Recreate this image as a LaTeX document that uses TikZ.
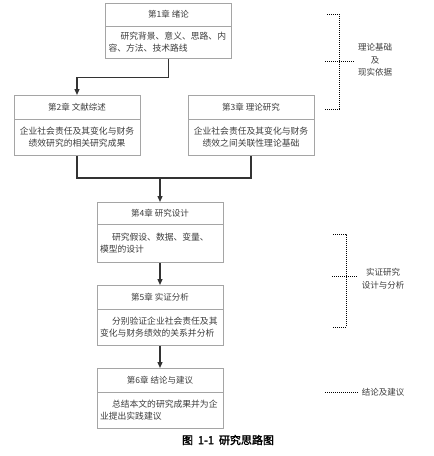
\documentclass[tikz,border=0pt]{standalone}
\usepackage{fontspec}
\newfontfamily\cjk{Noto Sans CJK SC}
\newfontfamily\cjkbf[FakeBold=2]{Noto Sans CJK SC}
\usetikzlibrary{positioning,arrows.meta}
\definecolor{boxgray}{RGB}{165,165,165}
\definecolor{txtgray}{RGB}{60,60,60}

\begin{document}
\begin{tikzpicture}[x=1pt,y=1pt,
    head/.style={draw=boxgray,minimum width=126pt,minimum height=23pt,inner
        sep=0pt,font=\cjk\fontsize{8.5}{10}\selectfont,text=txtgray},
    body/.style={draw=boxgray,minimum width=126pt,text width=120pt,inner
        xsep=3pt,inner ysep=2pt,minimum height=36pt,
        font=\cjk\fontsize{8.8}{12}\selectfont,text=txtgray},
    flow/.style={draw=black!80,line width=1.3pt,
        -{Triangle[length=6pt,width=5pt]}},
    bracket/.style={densely dotted,line width=1pt},
    side/.style={font=\cjk\fontsize{8.5}{12.5}\selectfont,text=txtgray,
        align=center,inner xsep=4pt,inner ysep=1pt}]

    \useasboundingbox (0,0) rectangle (434,-456);

    % the chapters

    \node[head,anchor=north] (c1) at (168.5,-3) {第1章 绪论};
    \node[body,below=0pt of c1,minimum height=32pt,align=left] (c1t)
    {\hspace*{12pt}研究背景、意义、思路、内\\容、方法、技术路线};

    \node[head,anchor=north,minimum height=24pt] (c2) at (77,-95) {第2章 文献综述};
    \node[body,below=0pt of c2,align=center] (c2t)
    {企业社会责任及其变化与财务\\绩效研究的相关研究成果};

    \node[head,anchor=north,minimum height=24pt] (c3) at (251,-95) {第3章 理论研究};
    \node[body,below=0pt of c3,align=center] (c3t)
    {企业社会责任及其变化与财务\\绩效之间关联性理论基础};

    \node[head,anchor=north,minimum height=22pt] (c4) at (160,-202) {第4章 研究设计};
    \node[body,below=0pt of c4,minimum height=38pt,align=left] (c4t)
    {\hspace*{12pt}研究假设、数据、变量、\\模型的设计};

    \node[head,anchor=north,minimum height=24pt] (c5) at (160,-285) {第5章 实证分析};
    \node[body,below=0pt of c5,align=left] (c5t)
    {\hspace*{12pt}分别验证企业社会责任及其\\变化与财务绩效的关系并分析};

    \node[head,anchor=north,minimum height=24pt] (c6) at (160,-368) {第6章 结论与建议};
    \node[body,below=0pt of c6,align=left] (c6t)
    {\hspace*{12pt}总结本文的研究成果并为企\\业提出实践建议};

    % the flow

    \coordinate (join) at (160,-178);
    \draw[flow] (c1t.south) -- ++(0,-19) -| (c2.north);
    \draw[flow,-] (c2t.south) |- (join) -| (c3t.south);
    \draw[flow] (join) -- (c4.north);
    \draw[flow] (c4t.south) -- (c5.north);
    \draw[flow] (c5t.south) -- (c6.north);

    % the parts

    \node[side] (s1) at (375,-60) {理论基础\\及\\现实依据};
    \draw[bracket] (327,-14) -| (339,-109) -- (325,-109);
    \draw[bracket] (325,-61) -- (s1.west |- 0,-61);

    \node[side] (s2) at (383,-278.5) {实证研究\\设计与分析};
    \draw[bracket] (333,-234) -| (346,-327) -- (333,-327);
    \draw[bracket] (332,-276) -- (s2.west |- 0,-276);

    \node[side] (s3) at (383,-392) {结论及建议};
    \draw[bracket] (325,-392) -- (s3.west);

    \node[font=\cjkbf\fontsize{11}{13}\selectfont] (cap) at (228,-440)
    {图\hspace{0.45em}1-1\hspace{0.45em}研究思路图};
\end{tikzpicture}
\end{document}
